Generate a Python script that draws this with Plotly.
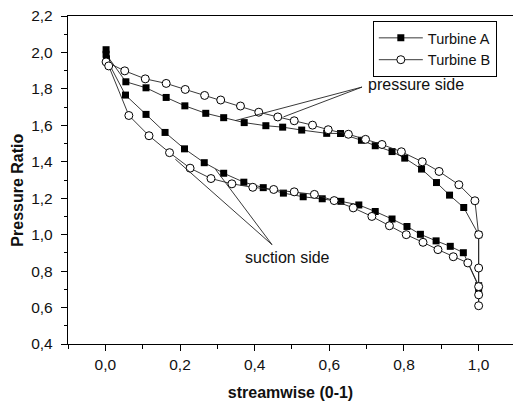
import plotly.graph_objects as go

# ---- data ----
a_pressure_x = [0.002, 0.002, 0.055, 0.109, 0.163, 0.213, 0.269, 0.317, 0.372, 0.430, 0.475,
                0.526, 0.593, 0.630, 0.686, 0.723, 0.768, 0.802, 0.847, 0.887, 0.922, 0.960, 1.0]
a_pressure_y = [2.015, 1.99, 1.839, 1.806, 1.753, 1.707, 1.666, 1.642, 1.615, 1.598, 1.590,
                1.574, 1.556, 1.555, 1.518, 1.488, 1.456, 1.420, 1.360, 1.286, 1.217, 1.149, 1.0]
a_te_x = [1.0, 1.0]
a_te_y = [0.70, 0.72]
a_suction_x = [0.959, 0.924, 0.886, 0.844, 0.808, 0.768, 0.723, 0.679, 0.631, 0.581, 0.530,
               0.477, 0.423, 0.371, 0.317, 0.265, 0.212, 0.160, 0.109, 0.054, 0.003]
a_suction_y = [0.901, 0.936, 0.966, 1.002, 1.045, 1.086, 1.127, 1.163, 1.183, 1.197, 1.208,
               1.228, 1.258, 1.288, 1.337, 1.395, 1.471, 1.561, 1.660, 1.766, 1.965]

b_pressure_x = [0.002, 0.052, 0.107, 0.163, 0.214, 0.266, 0.309, 0.362, 0.411, 0.462, 0.506,
                0.555, 0.597, 0.651, 0.697, 0.741, 0.793, 0.849, 0.894, 0.947, 0.990, 1.0]
b_pressure_y = [1.948, 1.899, 1.855, 1.830, 1.797, 1.764, 1.739, 1.706, 1.672, 1.646, 1.625,
                1.601, 1.576, 1.551, 1.523, 1.495, 1.455, 1.400, 1.347, 1.274, 1.186, 1.0]
b_te_x = [1.0, 1.0, 1.0, 1.0]
b_te_y = [0.817, 0.61, 0.67, 0.715]
b_suction_x = [0.971, 0.932, 0.891, 0.851, 0.806, 0.761, 0.714, 0.664, 0.613, 0.560, 0.506,
               0.451, 0.395, 0.339, 0.283, 0.227, 0.172, 0.117, 0.063, 0.009]
b_suction_y = [0.845, 0.879, 0.918, 0.958, 1.0, 1.049, 1.100, 1.147, 1.187, 1.221, 1.235,
               1.248, 1.260, 1.279, 1.308, 1.365, 1.450, 1.543, 1.654, 1.926]

series_names = ["Turbine A", "Turbine B"]

y_ticks = [0.4, 0.6, 0.8, 1.0, 1.2, 1.4, 1.6, 1.8, 2.0, 2.2]
x_ticks = [0.0, 0.2, 0.4, 0.6, 0.8, 1.0]

# annotation pointer lines (data coords): tip -> target points
pressure_tip = (0.6876, 1.810)
pressure_targets = [(0.348, 1.626), (0.477, 1.646)]
suction_tip = (0.4466, 0.945)
suction_targets = [(0.1875, 1.414), (0.295, 1.359)]

FONT = "Liberation Sans, Arial, sans-serif"
INK = "#111111"

fig = go.Figure()
fig.add_trace(go.Scatter(
    x=a_pressure_x + a_te_x + a_suction_x,
    y=a_pressure_y + a_te_y + a_suction_y,
    name=series_names[0], mode="lines+markers",
    line=dict(color="#222222", width=0.9),
    marker=dict(symbol="square", size=7, color="black", line=dict(width=0)),
))
fig.add_trace(go.Scatter(
    x=b_pressure_x + b_te_x + b_suction_x,
    y=b_pressure_y + b_te_y + b_suction_y,
    name=series_names[1], mode="lines+markers",
    line=dict(color="#222222", width=0.9),
    marker=dict(symbol="circle", size=8, color="white", line=dict(width=1, color="black")),
))

shapes = []
for tip, targets in ((pressure_tip, pressure_targets), (suction_tip, suction_targets)):
    for t in targets:
        shapes.append(dict(type="line", xref="x", yref="y", x0=tip[0], y0=tip[1],
                           x1=t[0], y1=t[1], line=dict(color="#222222", width=0.9)))

fig.update_layout(
    width=513, height=403,
    margin=dict(l=68, r=0, t=16, b=59),
    paper_bgcolor="white", plot_bgcolor="white",
    separators=", ",
    font=dict(family=FONT, size=15, color=INK),
    shapes=shapes,
    showlegend=True,
    legend=dict(x=0.685, y=0.985, xanchor="left", yanchor="top",
                bordercolor="black", borderwidth=1, bgcolor="white",
                font=dict(family=FONT, size=14.5, color=INK),
                tracegroupgap=0, itemwidth=44),
    annotations=[
        dict(text="pressure side", x=0.699, y=1.825, xref="x", yref="y",
             xanchor="left", yanchor="middle", showarrow=False,
             font=dict(family=FONT, size=16, color=INK)),
        dict(text="suction side", x=0.4875, y=0.875, xref="x", yref="y",
             xanchor="center", yanchor="middle", showarrow=False,
             font=dict(family=FONT, size=16, color=INK)),
        dict(text="<b>Pressure Ratio</b>", x=-0.1135, y=0.469, xref="paper", yref="paper",
             xanchor="center", yanchor="middle", textangle=-90, showarrow=False,
             font=dict(family=FONT, size=16, color=INK)),
    ],
)

fig.update_xaxes(
    range=[-0.1, 1.092], showgrid=False, zeroline=False,
    showline=True, linecolor="black", linewidth=1.3, mirror=True,
    ticks="outside", ticklen=6, tickwidth=1, tickcolor="black",
    tickvals=x_ticks, tickformat=".1f",
    tickfont=dict(family=FONT, size=15.5, color=INK), ticklabelstandoff=0,
    minor=dict(dtick=0.1, tick0=0, ticks="outside", ticklen=4, tickcolor="black", showgrid=False),
    title=dict(text="<b>streamwise (0-1)</b>", standoff=15,
               font=dict(family=FONT, size=16, color=INK)),
)
fig.update_yaxes(
    range=[0.4, 2.2], showgrid=False, zeroline=False,
    showline=True, linecolor="black", linewidth=1.3, mirror=False,
    ticks="outside", ticklen=6, tickwidth=1, tickcolor="black",
    tickvals=y_ticks, tickformat=".1f",
    tickfont=dict(family=FONT, size=15.5, color=INK), ticklabelstandoff=5,
    minor=dict(dtick=0.1, tick0=0, ticks="outside", ticklen=3, tickcolor="black", showgrid=False),
)

fig.write_html("out.html")
